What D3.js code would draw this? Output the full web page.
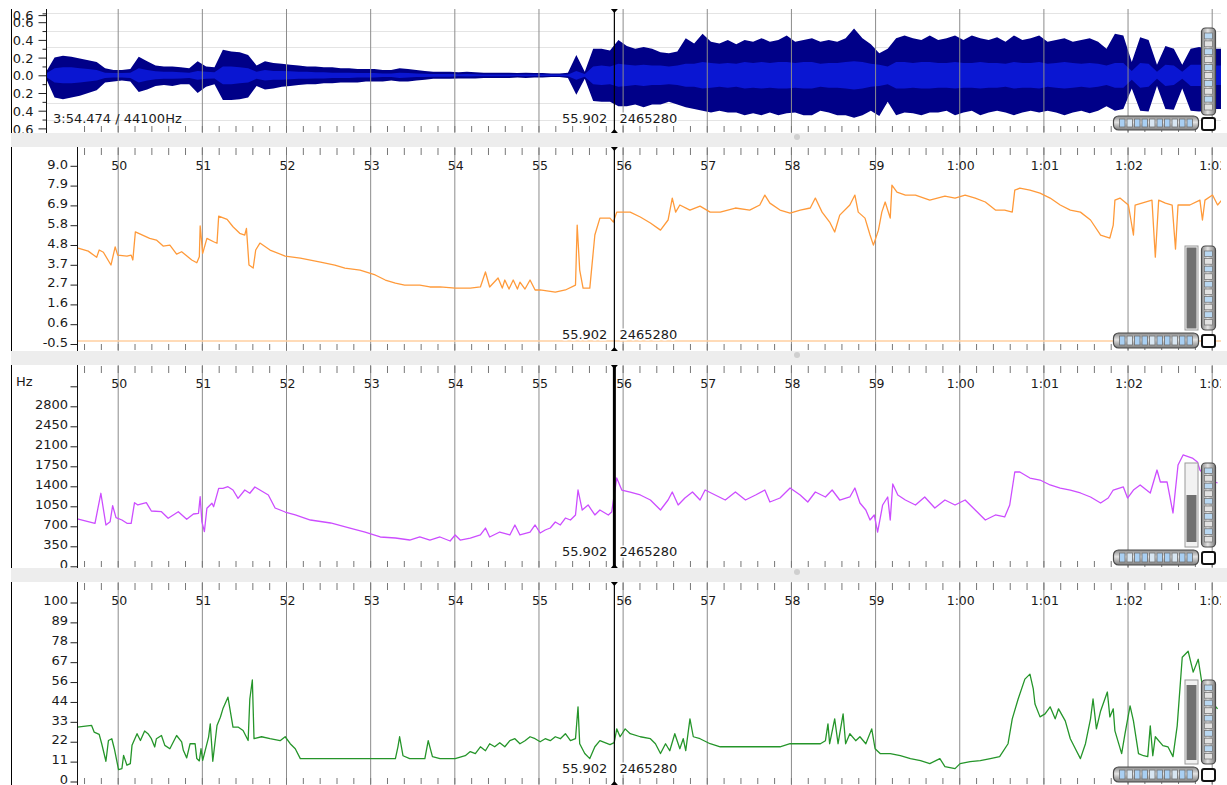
<!DOCTYPE html>
<html>
<head>
<meta charset="utf-8">
<script src="https://cdn.jsdelivr.net/npm/d3@7"></script>
<style>
  body { margin: 0; background: #fff; }
  svg { display: block; font-family: "DejaVu Sans", sans-serif; }
</style>
</head>
<body>
<svg id="chart" width="1227" height="785"></svg>
<script>
// ---- time axis ----
var secondTicks = [50, 51, 52, 53, 54, 55, 56, 57, 58, 59, 60, 61, 62, 63];
var secondLabels = ["50", "51", "52", "53", "54", "55", "56", "57", "58", "59", "1:00", "1:01", "1:02", "1:03"];
var playheadTime = 55.902;
var playheadFrame = 2465280;
var durationLabel = "3:54.474 / 44100Hz";

// ---- waveform (peak / rms per 0.1 s, starting 49.15 s) ----
var waveStart = 49.15, waveStep = 0.1;
var wavePeakPos = [.04,.2,.22,.21,.19,.17,.15,.08,.06,.06,.07,.21,.16,.11,.1,.1,.09,.08,.16,.1,
  .09,.29,.27,.26,.23,.11,.16,.14,.13,.12,.11,.1,.1,.09,.09,.08,.08,.07,.07,.07,
  .06,.06,.08,.07,.06,.05,.04,.04,.04,.035,.04,.035,.03,.03,.03,.03,.025,.03,.025,.025,
  .02,.02,.03,.23,.04,.3,.3,.28,.4,.33,.3,.32,.3,.26,.25,.27,.42,.36,.47,.38,
  .36,.4,.35,.4,.38,.42,.38,.4,.45,.38,.4,.42,.38,.4,.38,.42,.53,.42,.35,.25,
  .3,.42,.45,.42,.4,.45,.4,.42,.45,.4,.45,.42,.4,.43,.38,.45,.4,.42,.45,.38,
  .4,.42,.38,.4,.42,.38,.3,.47,.45,.15,.43,.4,.12,.33,.3,.12,.3,.32,.3,.3,.3];
var wavePeakNeg = [.04,.25,.27,.25,.23,.2,.17,.08,.07,.06,.07,.19,.16,.12,.11,.12,.1,.1,.2,.13,
  .1,.28,.28,.27,.25,.12,.16,.15,.13,.12,.11,.1,.1,.09,.09,.08,.08,.08,.07,.07,
  .07,.06,.07,.07,.06,.05,.04,.04,.04,.035,.035,.035,.03,.03,.03,.03,.025,.03,.025,.025,
  .02,.02,.03,.22,.04,.29,.3,.3,.35,.35,.33,.36,.33,.33,.3,.33,.36,.38,.4,.42,
  .4,.42,.42,.45,.43,.45,.42,.45,.43,.42,.45,.45,.4,.42,.45,.45,.48,.45,.4,.46,
  .3,.45,.42,.43,.45,.42,.42,.4,.45,.42,.4,.45,.42,.4,.42,.45,.42,.4,.42,.4,
  .42,.45,.42,.4,.43,.4,.35,.4,.38,.15,.4,.41,.12,.38,.39,.15,.4,.41,.4,.38,.38];
var waveRms = [.02,.08,.09,.09,.08,.07,.06,.03,.025,.025,.03,.08,.06,.045,.04,.04,.035,.03,.05,.04,
  .035,.1,.1,.09,.08,.04,.06,.05,.05,.045,.04,.04,.035,.035,.03,.03,.03,.025,.025,.025,
  .02,.02,.03,.025,.02,.018,.015,.015,.015,.012,.014,.012,.01,.01,.01,.01,.009,.01,.009,.009,
  .008,.008,.01,.05,.015,.1,.11,.1,.13,.12,.11,.12,.11,.11,.1,.11,.13,.13,.15,.14,
  .13,.14,.13,.15,.14,.15,.14,.15,.15,.14,.15,.15,.13,.14,.14,.15,.16,.15,.13,.12,
  .1,.15,.15,.14,.15,.15,.14,.14,.15,.14,.14,.15,.14,.14,.13,.15,.14,.14,.15,.13,
  .14,.15,.14,.13,.14,.13,.11,.14,.14,.05,.14,.13,.04,.12,.11,.04,.12,.12,.12,.11,.11];
var waveTickValues = [0.68, 0.6, 0.4, 0.2, 0, -0.2, -0.4, -0.6];
var waveTickLabels = ["0.6", "0.6", "0.4", "0.2", "0.0", "0.2", "0.4", "0.6"];
var waveMinorTicks = [0.7, 0.5, 0.3, 0.1, -0.1, -0.3, -0.5];
var waveGridLevels = [0.707, 0.5, 0.316, -0.316, -0.5, -0.707];

// ---- orange curve ----
var orangeTimes = [49.53,49.65,49.75,49.78,49.83,49.92,49.97,50.00,50.11,50.16,
  50.18,50.21,50.38,50.46,50.54,50.62,50.70,50.76,50.88,50.94,
  50.97,50.98,51.01,51.06,51.14,51.18,51.20,51.30,51.37,51.45,
  51.51,51.53,51.56,51.61,51.64,51.69,51.81,51.99,52.17,52.41,
  52.58,52.70,52.88,53.06,53.18,53.30,53.41,53.59,53.71,53.83,
  54.01,54.19,54.31,54.37,54.42,54.52,54.57,54.60,54.65,54.70,
  54.75,54.78,54.84,54.90,54.96,55.02,55.20,55.32,55.44,55.46,
  55.49,55.53,55.61,55.67,55.73,55.85,55.89,55.93,56.09,56.21,
  56.33,56.45,56.54,56.59,56.63,56.68,56.80,56.92,57.04,57.16,
  57.34,57.51,57.63,57.69,57.75,57.87,57.99,58.11,58.23,58.29,
  58.37,58.46,58.52,58.58,58.70,58.76,58.80,58.88,58.94,58.98,
  59.04,59.08,59.12,59.18,59.20,59.26,59.36,59.48,59.65,59.83,
  59.95,60.07,60.19,60.31,60.43,60.54,60.63,60.66,60.72,60.84,
  60.96,61.08,61.20,61.32,61.44,61.56,61.68,61.79,61.83,61.85,
  61.91,62.01,62.07,62.09,62.21,62.29,62.33,62.37,62.45,62.53,
  62.57,62.60,62.74,62.86,62.89,62.92,63.01,63.07,63.12];
var orangeValues = [4.61,4.45,4.12,4.51,4.39,3.71,4.68,4.24,4.19,4.24,
  3.98,5.48,5.13,5.04,4.72,4.77,4.29,4.42,3.98,3.83,
  4.15,5.79,4.33,5.13,4.95,4.87,6.32,6.14,5.75,5.40,
  5.31,5.66,3.71,3.55,4.51,4.88,4.51,4.19,4.08,3.87,
  3.71,3.55,3.44,3.18,2.91,2.75,2.64,2.64,2.54,2.54,
  2.48,2.48,2.54,3.34,2.54,3.02,2.48,2.91,2.43,2.91,
  2.43,2.80,2.43,2.91,2.38,2.38,2.27,2.38,2.64,5.84,
  3.44,2.48,2.48,5.31,6.21,6.21,6.00,6.53,6.53,6.27,
  5.95,5.57,6.11,7.28,6.53,6.91,6.64,6.85,6.53,6.53,
  6.75,6.64,6.91,7.44,7.01,6.64,6.48,6.64,6.75,7.28,
  6.53,6.00,5.47,6.37,6.91,7.44,6.53,6.21,5.31,4.77,
  5.57,6.53,7.07,6.21,7.97,7.60,7.44,7.44,7.17,7.38,
  7.28,7.44,7.28,7.07,6.64,6.64,6.53,7.70,7.81,7.70,
  7.54,7.28,6.91,6.64,6.53,6.11,5.31,5.15,5.84,7.17,
  7.28,6.91,5.31,6.91,7.07,7.17,4.13,7.17,7.01,6.91,
  4.56,6.91,6.91,7.17,6.11,7.17,7.44,6.91,7.17];
var orangeBaseline = -0.34;
var orangeTickValues = [-0.5, 0.556, 1.611, 2.667, 3.722, 4.778, 5.833, 6.889, 7.944, 9.0];
var orangeTickLabels = ["-0.5", "0.6", "1.6", "2.7", "3.7", "4.8", "5.8", "6.9", "7.9", "9.0"];

// ---- purple curve (Hz) ----
var purpleTimes = [49.52,49.73,49.80,49.86,49.91,49.94,49.98,50.05,50.11,50.16,
  50.20,50.24,50.34,50.40,50.52,50.60,50.72,50.82,50.90,50.96,
  50.98,51.00,51.03,51.06,51.12,51.14,51.20,51.25,51.31,51.37,
  51.43,51.51,51.57,51.63,51.69,51.79,51.87,51.99,52.11,52.29,
  52.53,52.76,52.94,53.12,53.30,53.47,53.59,53.71,53.83,53.95,
  54.01,54.07,54.19,54.31,54.37,54.42,54.54,54.66,54.72,54.78,
  54.90,54.96,55.02,55.08,55.14,55.20,55.26,55.32,55.38,55.44,
  55.47,55.52,55.59,55.67,55.73,55.83,55.87,55.93,55.99,56.09,
  56.21,56.33,56.45,56.54,56.59,56.66,56.74,56.83,56.92,56.98,
  57.10,57.22,57.34,57.46,57.58,57.69,57.75,57.87,57.99,58.11,
  58.20,58.29,58.41,58.49,58.58,58.70,58.76,58.82,58.89,58.94,
  58.99,59.03,59.09,59.15,59.18,59.21,59.27,59.36,59.48,59.59,
  59.71,59.83,59.95,60.07,60.19,60.31,60.43,60.54,60.60,60.66,
  60.72,60.84,60.96,61.08,61.20,61.32,61.44,61.56,61.68,61.77,
  61.83,61.95,62.00,62.07,62.15,62.27,62.35,62.39,62.47,62.54,
  62.60,62.66,62.77,62.83,62.86,62.98,63.07];
var purpleValues = [828,752,1278,723,781,1061,851,810,752,752,
  1113,1073,1113,968,956,840,956,823,915,928,
  1218,781,606,1015,1103,1043,1365,1365,1393,1335,
  1190,1335,1278,1388,1335,1248,1020,950,898,810,
  758,670,600,513,495,460,513,460,513,443,
  548,460,495,548,670,513,600,548,723,548,
  600,723,583,635,670,775,723,845,810,898,
  1335,985,1073,898,985,898,950,1545,1335,1300,
  1248,1160,985,1160,1300,1073,1195,1300,1160,1335,
  1248,1160,1300,1160,1248,1335,1125,1195,1370,1248,
  1125,1300,1213,1335,1160,1213,1370,1108,985,810,
  898,600,1073,1213,810,1440,1248,1160,1073,1213,
  1020,1160,1073,1160,985,810,898,863,1073,1650,
  1650,1545,1510,1423,1370,1335,1283,1213,1108,1195,
  1335,1388,1195,1335,1423,1283,1685,1475,1475,933,
  1773,1948,1895,1825,1685,1510,1458];
var hzTickValues = [0, 350, 700, 1050, 1400, 1750, 2100, 2450, 2800, 3150];
var hzTickLabels = ["0", "350", "700", "1050", "1400", "1750", "2100", "2450", "2800", ""];

// ---- green curve ----
var greenTimes = [49.52,49.69,49.72,49.78,49.81,49.86,49.89,49.93,49.96,50.01,
  50.05,50.07,50.11,50.15,50.17,50.23,50.27,50.32,50.36,50.40,
  50.44,50.46,50.52,50.56,50.62,50.70,50.76,50.78,50.82,50.86,
  50.92,50.94,50.97,50.99,51.01,51.08,51.10,51.13,51.18,51.22,
  51.25,51.31,51.37,51.43,51.49,51.55,51.57,51.60,51.62,51.71,
  51.81,51.93,51.99,52.05,52.11,52.17,53.30,53.33,53.35,53.39,
  53.47,53.65,53.69,53.74,53.83,54.01,54.13,54.19,54.25,54.31,
  54.37,54.42,54.48,54.54,54.60,54.66,54.72,54.78,54.84,54.90,
  54.96,55.02,55.08,55.14,55.20,55.26,55.32,55.38,55.44,55.47,
  55.49,55.55,55.61,55.67,55.73,55.79,55.85,55.90,55.93,55.97,
  56.03,56.09,56.21,56.33,56.39,56.45,56.51,56.56,56.62,56.68,
  56.72,56.75,56.80,56.84,56.92,57.04,57.16,57.87,57.99,58.35,
  58.41,58.44,58.46,58.52,58.56,58.62,58.65,58.70,58.77,58.82,
  58.89,58.96,59.00,59.06,59.18,59.30,59.42,59.54,59.65,59.77,
  59.83,59.95,60.01,60.13,60.25,60.37,60.48,60.58,60.63,60.70,
  60.78,60.84,60.88,60.90,60.96,61.02,61.08,61.14,61.18,61.26,
  61.32,61.38,61.44,61.50,61.56,61.59,61.63,61.68,61.76,61.79,
  61.83,61.85,61.93,61.97,62.03,62.07,62.13,62.19,62.24,62.27,
  62.30,62.33,62.42,62.48,62.54,62.59,62.65,62.72,62.78,62.84,
  62.90,63.07];
var greenValues = [30.4,31.3,27.6,26.3,21.1,11.3,22.9,23.9,18.3,6.7,
  7.2,14.6,9.1,10.0,20.2,26.7,22.9,28.2,26.7,23.9,
  19.3,23.9,25.7,20.2,18.3,25.7,22.1,17.4,13.2,21.1,
  21.1,12.8,11.5,18.3,11.8,24.8,32.2,11.3,31.3,35.9,
  40.6,47.1,30.4,30.4,28.5,22.9,46.1,56.7,23.9,25.0,
  23.9,22.8,25.0,21.1,18.3,12.8,12.8,19.4,25.0,14.4,
  12.8,12.8,22.8,13.9,12.8,12.8,14.4,16.7,15.6,19.4,
  17.2,21.1,19.4,21.7,19.4,22.8,23.9,21.1,22.8,25.0,
  23.9,22.2,23.9,22.8,25.0,23.9,26.7,22.8,23.9,41.7,
  21.1,15.6,12.8,19.4,22.8,21.7,20.6,21.7,29.4,25.0,
  29.4,26.7,25.0,23.9,21.1,15.6,21.1,17.2,26.7,18.3,
  23.9,17.2,35.0,25.0,23.9,21.1,19.4,19.4,21.1,21.1,
  22.8,32.2,21.1,35.0,21.1,37.8,21.1,26.7,22.8,25.0,
  21.1,29.4,18.3,15.6,15.6,14.4,12.8,11.7,10.0,12.8,
  8.3,7.2,10.0,11.1,11.7,12.8,13.9,21.1,35.0,46.1,
  57.2,60.0,51.7,43.3,36.1,37.8,41.7,35.0,40.6,33.9,
  23.9,18.3,12.8,21.1,35.0,46.1,29.4,39.4,50.0,36.1,
  40.6,28.3,15.6,26.7,42.2,33.9,15.6,14.4,13.9,31.1,
  14.4,25.0,20.0,19.4,13.9,31.1,69.4,72.8,61.1,68.3,
  50.0,40.6];
var greenTickValues = [0, 11.11, 22.22, 33.33, 44.44, 55.56, 66.67, 77.78, 88.89, 100];
var greenTickLabels = ["0", "11", "22", "33", "44", "56", "67", "78", "89", "100"];

// ---- layout ----
var svg = d3.select("#chart");
var defs = svg.append("defs");
var RIGHT = 1221;
var x = d3.scaleLinear().domain([50, 63]).range([117.7, 1211.7]);
var minorTicks = d3.range(49.6, 63.25, 0.2);

var panels = [
  {top: 9, bottom: 133, left: 46.5},
  {top: 147, bottom: 351, left: 77.5},
  {top: 365, bottom: 568, left: 77.5},
  {top: 582, bottom: 785, left: 77.5}
];

var yWave = d3.scaleLinear().domain([-1, 1]).range([75.3 + 88.5, 75.3 - 88.5]);
var yOrange = d3.scaleLinear().domain([-0.5, 9.0]).range([344, 165.8]);
var yHz = d3.scaleLinear().domain([0, 3150]).range([566.3, 386.3]);
var yGreen = d3.scaleLinear().domain([0, 100]).range([781.5, 602.5]);

panels.forEach(function (p, i) {
  defs.append("clipPath").attr("id", "clip" + i)
    .append("rect").attr("x", p.left).attr("y", p.top)
    .attr("width", RIGHT - p.left).attr("height", p.bottom - p.top);
  defs.append("clipPath").attr("id", "pclip" + i)
    .append("rect").attr("x", 0).attr("y", p.top)
    .attr("width", RIGHT).attr("height", p.bottom - p.top);
});

// gradients for the little wheels
var gH = defs.append("linearGradient").attr("id", "gradH").attr("x1", 0).attr("y1", 0).attr("x2", 0).attr("y2", 1);
gH.append("stop").attr("offset", "0%").attr("stop-color", "#8a8a8a");
gH.append("stop").attr("offset", "45%").attr("stop-color", "#e4e4e4");
gH.append("stop").attr("offset", "100%").attr("stop-color", "#7a7a7a");
var gV = defs.append("linearGradient").attr("id", "gradV").attr("x1", 0).attr("y1", 0).attr("x2", 1).attr("y2", 0);
gV.append("stop").attr("offset", "0%").attr("stop-color", "#8a8a8a");
gV.append("stop").attr("offset", "45%").attr("stop-color", "#e4e4e4");
gV.append("stop").attr("offset", "100%").attr("stop-color", "#7a7a7a");

svg.append("rect").attr("width", 1227).attr("height", 785).attr("fill", "#fff");

function timeGrid(g, p, withLabels, topTicks) {
  var c = g.append("g").attr("clip-path", "url(#clip" + panels.indexOf(p) + ")");
  c.selectAll("line.sec").data(secondTicks).enter().append("line")
    .attr("x1", function (d) { return x(d) + 0.5; })
    .attr("x2", function (d) { return x(d) + 0.5; })
    .attr("y1", p.top).attr("y2", p.bottom)
    .attr("stroke", "#8c8c8c").attr("stroke-width", 1);
  var bottomAxis = d3.axisTop(x).tickValues(minorTicks).tickSize(6).tickSizeOuter(0).tickFormat("");
  var ba = c.append("g").attr("transform", "translate(0," + (p.bottom - 1) + ")").call(bottomAxis);
  ba.select(".domain").remove();
  ba.selectAll("line").attr("stroke", "#777");
  if (topTicks) {
    var topAxis = d3.axisBottom(x).tickValues(minorTicks).tickSize(7).tickSizeOuter(0).tickFormat("");
    var ta = c.append("g").attr("transform", "translate(0," + (p.top + 1) + ")").call(topAxis);
    ta.select(".domain").remove();
    ta.selectAll("line").attr("stroke", "#777");
  }
  if (withLabels) {
    c.selectAll("text.sec").data(secondTicks).enter().append("text")
      .attr("x", function (d) { return x(d) + 1.5; })
      .attr("y", p.top + 22.5)
      .attr("text-anchor", "middle")
      .attr("font-size", 12.5)
      .attr("fill", "#1a1a1a")
      .text(function (d, i) { return secondLabels[i]; });
  }
  return c;
}

function yAxis(g, p, scale, values, labels, dy) {
  var ax = d3.axisLeft(scale).tickValues(values)
    .tickFormat(function (d, i) { return labels[i]; })
    .tickSize(7).tickPadding(2.5).tickSizeOuter(0);
  var a = g.append("g").attr("transform", "translate(" + p.left + ",0)").call(ax);
  a.select(".domain").remove();
  a.selectAll("line").attr("stroke", "#222");
  a.selectAll("text").attr("font-size", 13).attr("fill", "#1a1a1a")
    .attr("font-family", "DejaVu Sans").attr("dy", dy);
  g.append("line").attr("x1", p.left).attr("x2", p.left)
    .attr("y1", p.top).attr("y2", p.bottom).attr("stroke", "#111");
}

function playhead(g, p, width) {
  var px = x(playheadTime);
  g.append("line").attr("x1", px).attr("x2", px).attr("y1", p.top).attr("y2", p.bottom)
    .attr("stroke", "#000").attr("stroke-width", width);
  g.append("path").attr("d", "M" + (px - 3.5) + "," + p.top + "h7l-3.5,4z").attr("fill", "#000");
  g.append("path").attr("d", "M" + (px - 3.5) + "," + p.bottom + "h7l-3.5,-4z").attr("fill", "#000");
}

function positionText(g, p, baseline) {
  var px = x(playheadTime);
  var style = function (t) {
    t.attr("y", baseline).attr("font-size", 13).attr("fill", "#1a1a1a")
      .attr("stroke", "#fff").attr("stroke-width", 3).attr("paint-order", "stroke")
      .attr("stroke-linejoin", "round");
  };
  g.append("text").attr("x", px - 7).attr("text-anchor", "end").call(style)
    .text(playheadTime.toFixed(3));
  g.append("text").attr("x", px + 5).attr("text-anchor", "start").call(style)
    .text(playheadFrame);
}

function hWheel(g, x0, y0, w, h) {
  g.append("rect").attr("x", x0).attr("y", y0).attr("width", w).attr("height", h)
    .attr("rx", 5).attr("fill", "url(#gradH)").attr("stroke", "#4a4a4a").attr("stroke-width", 1.2);
  var n = 10, sw = (w - 10) / n;
  for (var k = 0; k < n; k++) {
    var sx = x0 + 5 + k * sw;
    g.append("rect").attr("x", sx + 1).attr("y", y0 + 3).attr("width", sw - 2).attr("height", h - 6)
      .attr("fill", k % 3 === 1 ? "#d8e6f2" : "#a9cff2").attr("stroke", "#6d6d6d").attr("stroke-width", 0.8);
  }
}

function vWheel(g, x0, y0, w, h) {
  g.append("rect").attr("x", x0).attr("y", y0).attr("width", w).attr("height", h)
    .attr("rx", 4).attr("fill", "url(#gradV)").attr("stroke", "#4a4a4a").attr("stroke-width", 1.2);
  var n = Math.round((h - 8) / 8), sh = (h - 8) / n;
  for (var k = 0; k < n; k++) {
    var sy = y0 + 4 + k * sh;
    g.append("rect").attr("x", x0 + 3).attr("y", sy + 1).attr("width", w - 6).attr("height", sh - 2)
      .attr("fill", k % 2 ? "#e2e2e2" : "#b9d8f2").attr("stroke", "#6d6d6d").attr("stroke-width", 0.7);
  }
}

function box(g, x0, y0) {
  g.append("rect").attr("x", x0).attr("y", y0).attr("width", 13).attr("height", 12)
    .attr("rx", 2).attr("fill", "#fff").attr("stroke", "#111").attr("stroke-width", 2);
}

function slider(g, x0, y0, h, fillFrom, fillTo) {
  g.append("rect").attr("x", x0).attr("y", y0).attr("width", 13).attr("height", h)
    .attr("fill", "#f2f2f2").attr("stroke", "#9a9a9a");
  g.append("rect").attr("x", x0 + 1.5).attr("y", y0 + fillFrom).attr("width", 10)
    .attr("height", fillTo - fillFrom).attr("fill", "#707070");
}

// ---- panel 1: waveform ----
(function () {
  var p = panels[0];
  var g = svg.append("g");
  g.append("line").attr("x1", 11.5).attr("x2", 11.5).attr("y1", p.top).attr("y2", p.bottom).attr("stroke", "#000");
  var c = g.append("g").attr("clip-path", "url(#clip0)");
  c.selectAll("line.lvl").data(waveGridLevels).enter().append("line")
    .attr("x1", p.left).attr("x2", RIGHT)
    .attr("y1", function (d) { return Math.round(yWave(d)) + 0.5; })
    .attr("y2", function (d) { return Math.round(yWave(d)) + 0.5; })
    .attr("stroke", "#e4e4e4");
  timeGrid(g, p, false, false);
  var idx = d3.range(wavePeakPos.length);
  var tAt = function (i) { return x(waveStart + i * waveStep); };
  var peakArea = d3.area().x(tAt)
    .y0(function (i) { return yWave(-wavePeakNeg[i]); })
    .y1(function (i) { return yWave(wavePeakPos[i]); });
  var rmsArea = d3.area().x(tAt)
    .y0(function (i) { return yWave(-waveRms[i]); })
    .y1(function (i) { return yWave(waveRms[i]); });
  c.append("path").datum(idx).attr("d", peakArea).attr("fill", "#000088");
  c.append("path").datum(idx).attr("d", rmsArea).attr("fill", "#0a16d2");

  var pc = g.append("g").attr("clip-path", "url(#pclip0)");
  var minor = d3.axisLeft(yWave).tickValues(waveMinorTicks).tickSize(4).tickFormat("").tickSizeOuter(0);
  var m = pc.append("g").attr("transform", "translate(" + p.left + ",0)").call(minor);
  m.select(".domain").remove();
  m.selectAll("line").attr("stroke", "#222");
  var ax = d3.axisLeft(yWave).tickValues(waveTickValues)
    .tickFormat(function (d, i) { return waveTickLabels[i]; })
    .tickSize(8).tickPadding(5).tickSizeOuter(0);
  var a = pc.append("g").attr("transform", "translate(" + p.left + ",0)").call(ax);
  a.select(".domain").remove();
  a.selectAll("line").attr("stroke", "#222");
  a.selectAll("text").attr("font-size", 13).attr("fill", "#1a1a1a").attr("font-family", "DejaVu Sans").attr("dy", "0.36em");
  pc.append("line").attr("x1", p.left).attr("x2", p.left).attr("y1", p.top).attr("y2", p.bottom).attr("stroke", "#111");

  playhead(g, p, 1.2);
  g.append("text").attr("x", 53).attr("y", p.bottom - 10).attr("font-size", 13)
    .attr("fill", "#1a1a1a").text(durationLabel);
  positionText(g, p, p.bottom - 10);
  vWheel(g, 1201.5, 28, 14, 87);
  hWheel(g, 1113.5, p.bottom - 17, 85, 14);
  box(g, 1202, p.bottom - 15);
})();

// ---- generic curve panel ----
function curvePanel(pi, scale, times, values, color, tickValues, tickLabels, opts) {
  var p = panels[pi];
  var g = svg.append("g");
  g.append("line").attr("x1", 11.5).attr("x2", 11.5).attr("y1", p.top).attr("y2", p.bottom).attr("stroke", "#000");
  var c = timeGrid(g, p, true, true);
  if (opts.baseline !== undefined) {
    c.append("line").attr("x1", p.left).attr("x2", RIGHT)
      .attr("y1", scale(opts.baseline)).attr("y2", scale(opts.baseline))
      .attr("stroke", "#ffcfa0").attr("stroke-width", 1.5);
  }
  var line = d3.line()
    .x(function (d, i) { return x(times[i]); })
    .y(function (d) { return scale(d); });
  c.append("path").datum(values).attr("d", line)
    .attr("fill", "none").attr("stroke", color).attr("stroke-width", 1.3)
    .attr("stroke-linejoin", "round");
  var pc = g.append("g").attr("clip-path", "url(#pclip" + pi + ")");
  yAxis(pc, p, scale, tickValues, tickLabels, "0.17em");
  if (opts.unit) {
    g.append("text").attr("x", 16).attr("y", p.top + 21).attr("font-size", 13)
      .attr("fill", "#1a1a1a").text(opts.unit);
  }
  playhead(g, p, opts.playWidth);
  positionText(g, p, p.bottom - 12);
  slider(g, 1185, p.bottom - 105, 84, opts.fill[0], opts.fill[1]);
  vWheel(g, 1201.5, p.bottom - 105, 14, 84);
  hWheel(g, 1113.5, p.bottom - 18, 85, 15);
  box(g, 1202, p.bottom - 16);
}

curvePanel(1, yOrange, orangeTimes, orangeValues, "#ff9a3a", orangeTickValues, orangeTickLabels,
  {baseline: orangeBaseline, playWidth: 1.2, fill: [1.5, 82.5]});
curvePanel(2, yHz, purpleTimes, purpleValues, "#cc4dff", hzTickValues, hzTickLabels,
  {unit: "Hz", playWidth: 3, fill: [32, 79]});
curvePanel(3, yGreen, greenTimes, greenValues, "#25952a", greenTickValues, greenTickLabels,
  {playWidth: 1.2, fill: [5, 80]});

// ---- separators between panes ----
var seps = [[133, 147], [351, 365], [568, 582]];
seps.forEach(function (s) {
  svg.append("rect").attr("x", 11).attr("y", s[0]).attr("width", 1227 - 11).attr("height", s[1] - s[0])
    .attr("fill", "#ededed");
  svg.append("circle").attr("cx", 797).attr("cy", s[0] + 4).attr("r", 3).attr("fill", "#cfcfcf");
});
svg.append("rect").attr("x", 11).attr("y", 0).attr("width", 1216).attr("height", 9).attr("fill", "#fff");
</script>
</body>
</html>
